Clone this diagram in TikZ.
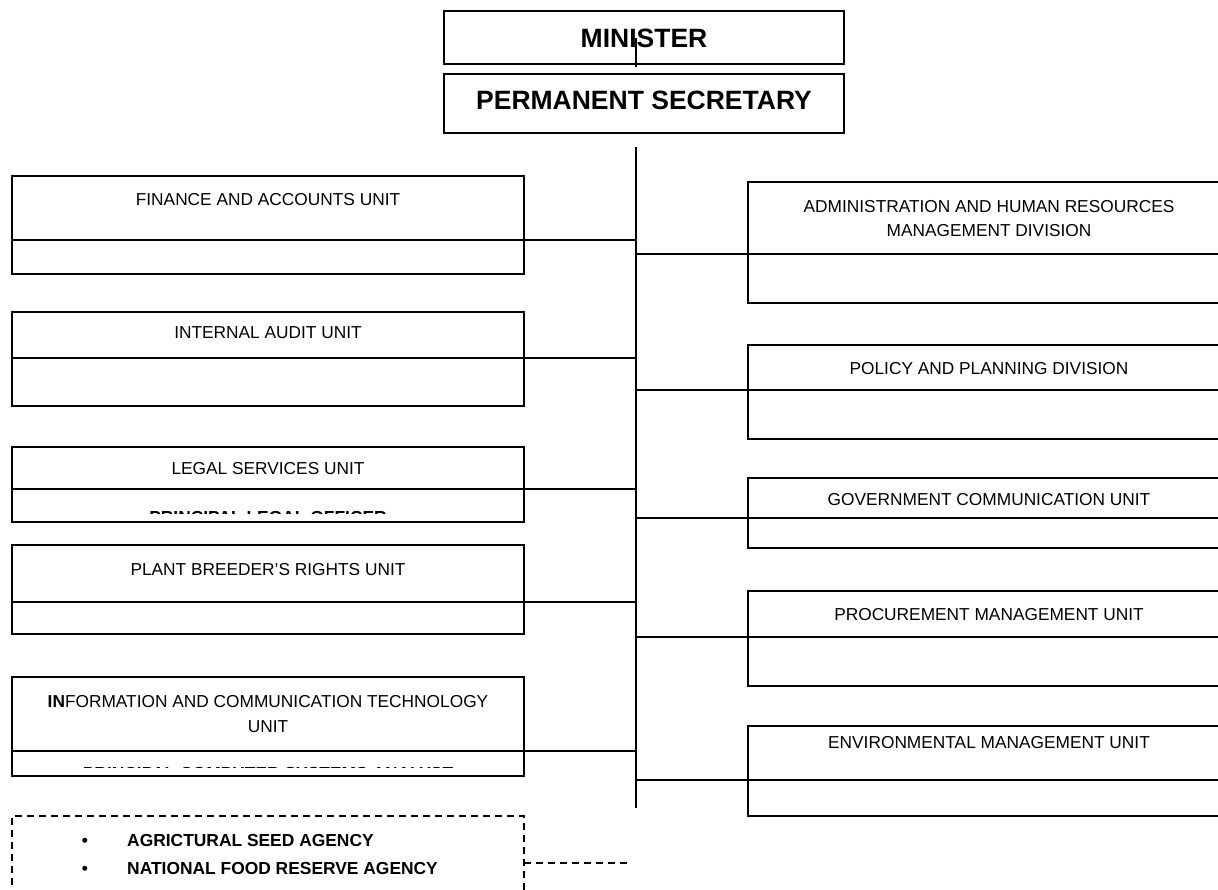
\documentclass[tikz,border=0pt]{standalone}
\usepackage{fontspec}
\setmainfont{Liberation Sans}
\tikzset{
  box/.style={draw, line width=1.3pt, inner sep=0pt, outer sep=0pt, anchor=north west},
  lbox/.style={box, minimum width=512pt},
  rbox/.style={box, minimum width=482pt},
  tbox/.style={box, minimum width=400pt},
  dbox/.style={draw, line width=1.3pt, dash pattern=on 7pt off 5pt, inner sep=0pt, outer sep=0pt, anchor=north west, minimum width=512pt},
  lbl/.style={font=\fontsize{17.3}{24.5}\selectfont, inner sep=0pt, anchor=base, align=center},
  blbl/.style={font=\fontsize{17.4}{24.5}\selectfont\bfseries, inner sep=0pt, anchor=base},
  hd/.style={font=\fontsize{26.5}{30}\selectfont\bfseries, inner sep=0pt, anchor=base},
  conn/.style={line width=1.3pt},
  dconn/.style={line width=1.3pt, dash pattern=on 7pt off 5pt},
}
\begin{document}
\begin{tikzpicture}[x=1pt,y=-1pt]
\useasboundingbox (0,0) rectangle (1218,890);
\clip (0,0) rectangle (1218,890);
\fill[white] (0,0) rectangle (1218,890);

% top boxes
\node[tbox, minimum height=53pt] (min) at (444,11) {};
\node[tbox, minimum height=59pt] (ps) at (444,74) {};
\node[hd] (minT) at (644,47.5) {MINISTER};
\node[hd] (psT) at (644,110) {PERMANENT SECRETARY};
\coordinate (mtick) at (636,38);
\draw[conn] (mtick) -- ++(0,29);

% trunk
\coordinate (trunkT) at (636,147);
\coordinate (trunkB) at (636,808);
\draw[conn] (trunkT) -- (trunkB);

% left boxes
\node[lbox, minimum height=98pt] (fin) at (12,176) {};
\node[lbox, minimum height=94pt] (aud) at (12,312) {};
\node[lbox, minimum height=75pt] (leg) at (12,447) {};
\node[lbox, minimum height=89pt] (pbr) at (12,545) {};
\node[lbox, minimum height=99pt] (ict) at (12,677) {};

\node[lbl] (finT) at (268,206) {FINANCE AND ACCOUNTS UNIT};
\node[lbl] (audT) at (268,339) {INTERNAL AUDIT UNIT};
\node[lbl] (legT) at (268,474) {LEGAL SERVICES UNIT};
\node[lbl] (pbrT) at (268,575) {PLANT BREEDER’S RIGHTS UNIT};
\node[lbl] (ictT) at (268,732) {\textbf{IN}FORMATION AND COMMUNICATION TECHNOLOGY\\UNIT};

\begin{scope}
  \clip (12,489) rectangle (524,513);
  \node[blbl] (legO) at (268,523.5) {PRINCIPAL LEGAL OFFICER};
\end{scope}
\begin{scope}
  \clip (12,751) rectangle (524,767);
  \node[blbl] (ictO) at (268,779.5) {PRINCIPAL COMPUTER SYSTEMS ANALYST};
\end{scope}

\draw[conn] (fin.west |- 0,240) -- (trunkT |- 0,240);
\draw[conn] (aud.west |- 0,358) -- (trunkT |- 0,358);
\draw[conn] (leg.west |- 0,489) -- (trunkT |- 0,489);
\draw[conn] (pbr.west |- 0,602) -- (trunkT |- 0,602);
\draw[conn] (ict.west |- 0,751) -- (trunkT |- 0,751);

% right boxes
\node[rbox, minimum height=121pt] (adm) at (748,182) {};
\node[rbox, minimum height=94pt] (pol) at (748,345) {};
\node[rbox, minimum height=70pt] (gcu) at (748,478) {};
\node[rbox, minimum height=95pt] (pmu) at (748,591) {};
\node[rbox, minimum height=90pt] (env) at (748,726) {};

\node[lbl] (admT) at (989,237) {ADMINISTRATION AND HUMAN RESOURCES\\MANAGEMENT DIVISION};
\node[lbl] (polT) at (989,374) {POLICY AND PLANNING DIVISION};
\node[lbl] (gcuT) at (989,505) {GOVERNMENT COMMUNICATION UNIT};
\node[lbl] (pmuT) at (989,620) {PROCUREMENT MANAGEMENT UNIT};
\node[lbl] (envT) at (989,748) {ENVIRONMENTAL MANAGEMENT UNIT};

\draw[conn] (trunkT |- 0,254) -- (adm.east |- 0,254);
\draw[conn] (trunkT |- 0,390) -- (pol.east |- 0,390);
\draw[conn] (trunkT |- 0,518) -- (gcu.east |- 0,518);
\draw[conn] (trunkT |- 0,637) -- (pmu.east |- 0,637);
\draw[conn] (trunkT |- 0,780) -- (env.east |- 0,780);

% agencies
\node[dbox, minimum height=90pt] (agency) at (12,816) {};
\node[blbl, anchor=base] (b1) at (85,846) {•};
\node[blbl, anchor=base] (b2) at (85,874) {•};
\node[blbl, anchor=base west] (a1) at (127,846) {AGRICTURAL SEED AGENCY};
\node[blbl, anchor=base west] (a2) at (127,874) {NATIONAL FOOD RESERVE AGENCY};
\coordinate (dend) at (630,863);
\draw[dconn] (agency.east |- dend) -- (dend);
\end{tikzpicture}
\end{document}
